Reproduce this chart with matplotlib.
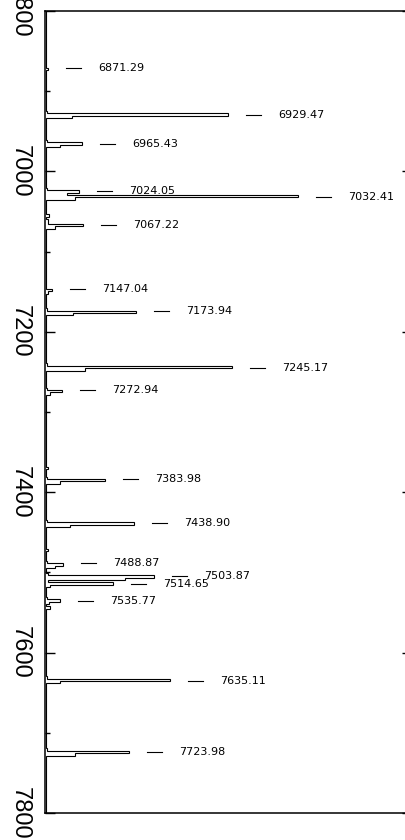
import matplotlib.pyplot as plt
import numpy as np
from matplotlib.ticker import MultipleLocator

# identified arc lines (Angstrom) and how far each spike reaches
line_wave = [6871.29, 6929.47, 6965.43, 7024.05, 7032.41, 7067.22, 7147.04,
             7173.94, 7245.17, 7272.94, 7383.98, 7438.90, 7488.87, 7503.87,
             7514.65, 7535.77, 7635.11, 7723.98]
line_peak = [3, 183, 37, 34, 253, 38, 7, 91, 187, 17, 60, 89, 18, 109,
             68, 15, 125, 84]
wing_blue = [1, 2, 2, 2, 22, 3, 1, 2, 2, 2, 2, 2, 2, 3, 3, 2, 2, 2]
wing_red = [1, 27, 15, 10, 30, 10, 3, 28, 40, 5, 15, 25, 10, 80, 5, 4, 15, 30]
line_label = ['6871.29', '6929.47', '6965.43', '7024.05', '7032.41', '7067.22',
              '7147.04', '7173.94', '7245.17', '7272.94', '7383.98', '7438.90',
              '7488.87', '7503.87', '7514.65', '7535.77', '7635.11', '7723.98']

# weak unlabelled bumps
weak_wave = [7054, 7060, 7371, 7473, 7545]
weak_flux = [4, 3, 3, 3, 5]

baseline = 1.5
bin_width = 3.0
edges = np.arange(6798.5, 7802 + bin_width, bin_width)
flux = np.full(len(edges) - 1, baseline)

def put(w, value):
    i = int(round((w - 6800) / bin_width))
    flux[i] = max(flux[i], value)
    return i

for w, v in zip(weak_wave, weak_flux):
    put(w, v)
for w, p, b, r in zip(line_wave, line_peak, wing_blue, wing_red):
    i = put(w, p)
    flux[i - 1] = max(flux[i - 1], b)
    flux[i + 1] = max(flux[i + 1], r)

fig = plt.figure(figsize=(4.06, 8.4), dpi=100)
ax = fig.add_axes([45 / 406, 27 / 840, 367 / 406, 802 / 840])

ax.stairs(flux, edges, orientation='horizontal', baseline=None,
          color='black', linewidth=0.8)

for w, p, lab in zip(line_wave, line_peak, line_label):
    ax.plot([p + 18, p + 33], [w, w], color='black', linewidth=0.8)
    ax.text(p + 50, w, lab, ha='left', va='center', fontsize=8,
            family='DejaVu Sans')

ax.set_xlim(0, 367)
ax.set_ylim(7800, 6800)
ax.set_xticks([])
ax.yaxis.set_major_locator(MultipleLocator(200))
ax.yaxis.set_minor_locator(MultipleLocator(100))
ax.tick_params(axis='y', which='major', direction='in', length=7, width=1,
               left=True, right=True, labelsize=17, pad=10, labelrotation=-90)
ax.tick_params(axis='y', which='minor', direction='in', length=3.5, width=1,
               left=True, right=False)
for lab in ax.get_yticklabels():
    lab.set_family('Liberation Sans')
    lab.set_verticalalignment('center')
for s in ax.spines.values():
    s.set_linewidth(1.1)

fig.savefig('out.png', dpi=100)
